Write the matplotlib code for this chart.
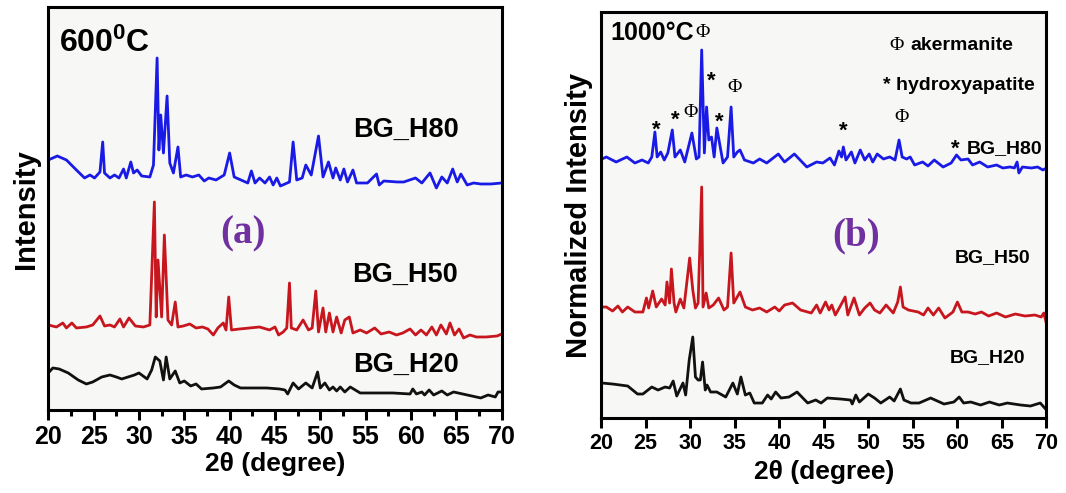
import matplotlib
matplotlib.use("Agg")
import matplotlib.pyplot as plt
from matplotlib.ticker import MultipleLocator

plt.rcParams['font.family'] = ['Liberation Sans', 'DejaVu Sans']
plt.rcParams['mathtext.fontset'] = 'custom'
plt.rcParams['mathtext.rm'] = 'Liberation Sans'
plt.rcParams['mathtext.bf'] = 'Liberation Sans:bold'

# ---------------- Panel (a): 600 C (two-theta, intensity a.u.) ----------------
a_h80_x = [20.0, 21.0, 22.0, 23.1, 24.0, 24.6, 25.1, 25.7, 26.0, 26.2, 26.8, 27.3, 27.8, 28.3, 28.6,
           29.1, 29.4, 29.8, 30.3, 31.2, 31.6, 32.0, 32.2, 32.4, 32.7, 33.1, 33.4, 33.8, 34.3, 34.6,
           35.2, 35.9, 36.6, 37.2, 37.7, 38.5, 39.4, 40.0, 40.5, 41.5, 42.0, 42.4, 42.8, 43.3, 43.9,
           44.4, 44.8, 45.2, 45.6, 46.1, 46.6, 47.0, 47.4, 48.0, 48.4, 49.0, 49.8, 50.3, 50.9, 51.4,
           51.7, 52.2, 52.6, 53.0, 53.6, 54.0, 54.5, 55.2, 56.2, 56.5, 57.0, 58.5, 59.2, 60.5, 61.2,
           62.1, 62.8, 63.4, 64.0, 64.6, 65.1, 65.5, 66.2, 66.9, 67.7, 68.8, 70.0]
a_h80_y = [250, 254, 250, 240, 232, 235, 232, 238, 268, 237, 232, 235, 232, 241, 232,
           248, 237, 240, 234, 233, 245, 352, 260, 295, 257, 314, 247, 237, 263, 233,
           235, 233, 235, 229, 232, 230, 235, 257, 233, 229, 227, 239, 227, 232, 227,
           233, 225, 232, 224, 226, 228, 268, 230, 232, 245, 235, 274, 233, 248, 232,
           242, 230, 241, 228, 240, 227, 227, 227, 236, 225, 229, 228, 228, 232, 227,
           237, 222, 233, 227, 241, 228, 236, 225, 227, 226, 226, 227]

a_h50_x = [20.0, 20.9, 21.6, 22.0, 22.6, 23.1, 24.2, 24.9, 25.7, 26.2, 26.8, 27.3, 27.9, 28.3, 28.9,
           29.6, 30.5, 31.2, 31.7, 31.9, 32.1, 32.5, 32.8, 33.2, 33.6, 34.0, 34.3, 34.9, 35.6, 36.3,
           37.0, 37.6, 38.2, 38.7, 39.3, 39.6, 39.9, 40.2, 41.1, 42.2, 43.3, 44.4, 45.0, 45.4, 45.9,
           46.3, 46.6, 46.8, 47.4, 48.1, 48.7, 49.1, 49.5, 49.8, 50.3, 50.6, 51.0, 51.4, 51.8, 52.3,
           52.7, 53.2, 53.6, 54.4, 55.1, 56.0, 56.7, 57.6, 58.4, 59.1, 59.9, 60.5, 61.1, 61.7, 62.3,
           62.8, 63.3, 63.9, 64.3, 64.8, 65.3, 65.8, 66.5, 67.2, 68.3, 69.5, 70.0]
a_h50_y = [85, 83, 87, 82, 87, 82, 83, 85, 94, 84, 85, 83, 91, 83, 92,
           84, 83, 85, 208, 93, 150, 93, 175, 90, 85, 108, 83, 84, 86, 82,
           83, 81, 75, 82, 87, 80, 113, 80, 81, 82, 83, 80, 83, 75, 78,
           82, 127, 82, 80, 90, 80, 82, 119, 78, 102, 78, 97, 78, 93, 77,
           90, 93, 77, 80, 77, 82, 76, 78, 75, 77, 81, 75, 80, 75, 83,
           75, 85, 76, 87, 75, 81, 72, 75, 73, 73, 74, 76]

a_h20_x = [20.0, 20.5, 21.2, 22.2, 23.3, 24.2, 24.9, 25.9, 26.8, 27.5, 28.1, 28.8, 29.5, 30.0, 30.9,
           31.4, 31.8, 32.3, 32.7, 33.0, 33.4, 34.0, 34.5, 35.0, 35.7, 36.3, 36.9, 38.2, 39.0, 39.9,
           40.5, 41.2, 42.8, 44.1, 45.5, 46.1, 46.4, 47.0, 47.6, 48.4, 49.1, 49.7, 50.0, 50.5, 51.0,
           51.4, 51.8, 52.2, 52.7, 53.3, 54.4, 55.5, 58.0, 59.9, 60.2, 60.6, 61.2, 61.5, 62.0, 62.5,
           63.4, 64.0, 64.7, 66.2, 67.7, 68.5, 69.3, 69.6, 70.0]
a_h20_y = [37, 42, 41, 37, 30, 26, 28, 33, 35, 33, 31, 33, 35, 37, 31,
           40, 53, 49, 30, 53, 31, 39, 27, 29, 24, 26, 21, 22, 23, 29,
           25, 22, 22, 22, 21, 20, 16, 27, 21, 27, 22, 38, 22, 27, 20,
           23, 19, 23, 18, 23, 17, 17, 17, 16, 21, 16, 18, 15, 20, 15,
           19, 15, 18, 15, 12, 15, 13, 18, 18]

# ---------------- Panel (b): 1000 C ----------------
b_h80_x = [20.1, 20.6, 21.7, 22.9, 23.8, 24.6, 25.3, 25.7, 26.05, 26.3, 26.7, 27.1, 27.5, 28.0, 28.3,
           28.9, 29.4, 30.2, 30.7, 31.0, 31.3, 31.6, 31.85, 32.1, 32.4, 32.7, 33.0, 33.3, 33.7, 34.2,
           34.6, 34.9, 35.3, 35.6, 36.1, 37.1, 37.8, 38.6, 39.9, 40.6, 41.7, 43.1, 44.2, 44.9, 45.7,
           46.2, 46.7, 47.0, 47.2, 47.5, 48.1, 48.5, 49.1, 49.6, 50.1, 50.5, 51.0, 51.7, 52.4, 53.0,
           53.45, 53.8, 54.3, 54.7, 55.2, 56.1, 56.7, 57.4, 58.4, 59.3, 59.9, 60.4, 61.2, 61.7, 62.5,
           63.4, 64.4, 65.1, 65.9, 66.4, 66.7, 66.9, 67.3, 68.3, 69.0, 69.6, 70.0]
b_h80_y = [259, 261, 256, 261, 255, 258, 255, 261, 286, 261, 266, 258, 265, 288, 261,
           268, 256, 285, 259, 261, 368, 265, 311, 278, 281, 261, 290, 275, 255, 261,
           311, 261, 266, 268, 258, 255, 259, 255, 264, 256, 264, 251, 256, 255, 260,
           253, 267, 261, 271, 258, 266, 255, 268, 258, 264, 256, 264, 259, 261, 258,
           278, 261, 259, 261, 253, 256, 252, 258, 251, 255, 263, 258, 259, 253, 256,
           251, 253, 250, 251, 250, 256, 245, 251, 250, 251, 248, 250]

b_h50_x = [20.0, 20.1, 20.6, 21.3, 21.9, 22.4, 23.0, 23.8, 24.7, 25.1, 25.35, 25.8, 26.2, 26.8, 27.2,
           27.4, 27.7, 27.9, 28.2, 28.4, 28.9, 29.3, 29.95, 30.3, 30.6, 30.9, 31.3, 31.45, 31.8, 32.1,
           32.6, 33.2, 33.8, 34.2, 34.6, 34.9, 35.6, 36.2, 37.0, 37.8, 38.6, 39.5, 40.0, 40.6, 41.5,
           42.4, 43.6, 44.2, 44.6, 45.2, 45.6, 45.9, 46.3, 46.8, 47.4, 47.7, 48.4, 49.0, 49.6, 50.2,
           50.7, 51.3, 52.0, 52.8, 53.3, 53.6, 53.9, 54.5, 55.6, 56.2, 56.7, 57.3, 57.9, 58.6, 59.5,
           60.0, 60.5, 61.2, 62.0, 62.7, 63.5, 64.4, 65.4, 66.5, 67.6, 68.7, 69.4, 69.7, 70.0]
b_h50_y = [116, 111, 111, 107, 112, 106, 111, 106, 106, 120, 110, 127, 111, 119, 113,
           136, 115, 149, 115, 106, 119, 110, 160, 128, 110, 115, 231, 111, 125, 110,
           113, 120, 108, 111, 165, 115, 126, 111, 108, 110, 106, 111, 107, 113, 115,
           108, 105, 113, 105, 116, 108, 113, 103, 111, 121, 103, 120, 103, 110, 115,
           108, 105, 113, 105, 116, 131, 111, 108, 106, 103, 110, 103, 110, 100, 106,
           116, 106, 106, 104, 106, 102, 105, 101, 104, 102, 103, 101, 105, 94]

b_h20_x = [20.1, 21.3, 23.0, 24.1, 24.7, 25.7, 26.4, 27.2, 27.7, 28.1, 28.5, 29.2, 29.5, 29.9, 30.3,
           30.6, 30.9, 31.15, 31.4, 31.7, 31.9, 32.3, 33.0, 34.0, 34.8, 35.3, 35.7, 36.2, 36.7, 37.2,
           38.1, 38.7, 39.1, 39.6, 40.2, 41.1, 42.0, 43.2, 44.1, 44.7, 45.4, 46.9, 48.0, 48.2, 48.6,
           49.0, 50.0, 50.7, 51.4, 52.4, 52.9, 53.6, 54.0, 54.8, 55.7, 57.0, 58.5, 59.6, 60.2, 60.7,
           61.5, 62.6, 63.6, 64.7, 65.6, 67.1, 68.2, 69.3, 70.0]
b_h20_y = [35, 34, 32, 24, 24, 31, 28, 31, 30, 37, 22, 35, 23, 58, 81,
           41, 38, 38, 56, 28, 33, 26, 26, 21, 35, 24, 41, 23, 25, 15,
           15, 23, 19, 26, 20, 21, 26, 15, 18, 15, 20, 19, 18, 14, 23,
           16, 24, 20, 15, 21, 17, 29, 18, 15, 15, 20, 14, 16, 21, 15,
           16, 13, 16, 13, 15, 13, 12, 15, 8]

# peak markers (panel b): two-theta, height, symbol
mark_x = [26.2, 28.3, 30.0, 31.4, 32.4, 33.3, 35.0, 47.2, 53.7, 59.8]
mark_y = [292, 302, 305, 385, 341, 300, 330, 291, 300, 273]
mark_s = ['*', '*', 'Φ', 'Φ', '*', '*', 'Φ', '*', 'Φ', '*']

xticks = [20, 25, 30, 35, 40, 45, 50, 55, 60, 65, 70]

BLUE = '#1a1ae6'
RED = '#c8161e'
BLACK = '#111111'
PURPLE = '#7030a0'
FACE = '#f7f7f5'

fig = plt.figure(figsize=(10.66, 4.93), dpi=100)
fig.patch.set_facecolor('white')

axA = fig.add_axes([0.0453, 0.1684, 0.4253, 0.8164])
axB = fig.add_axes([0.5638, 0.1521, 0.4179, 0.8236])

for ax in (axA, axB):
    ax.set_facecolor(FACE)
    ax.set_xlim(20, 70)
    ax.set_yticks([])
    ax.set_xticks(xticks)
    for sp in ax.spines.values():
        sp.set_linewidth(2.2)
        sp.set_color('black')

axA.set_ylim(0, 402.5)
axB.set_ylim(0, 406)

lw = 2.0
kw = dict(lw=lw, solid_joinstyle='round', solid_capstyle='round')
axA.plot(a_h80_x, a_h80_y, color=BLUE, **kw)
axA.plot(a_h50_x, a_h50_y, color=RED, **kw)
axA.plot(a_h20_x, a_h20_y, color=BLACK, **kw)
axB.plot(b_h80_x, b_h80_y, color=BLUE, **kw)
axB.plot(b_h50_x, b_h50_y, color=RED, **kw)
axB.plot(b_h20_x, b_h20_y, color=BLACK, **kw)

# ticks
axA.xaxis.set_minor_locator(MultipleLocator(2.5))
axA.tick_params(axis='x', which='major', direction='out', length=7, width=2.2,
                labelsize=18, pad=4)
axA.tick_params(axis='x', which='minor', direction='out', length=4, width=2.2)
axB.tick_params(axis='x', which='major', direction='out', length=7, width=2.2,
                labelsize=15.5, pad=4)
for lab in axA.get_xticklabels() + axB.get_xticklabels():
    lab.set_fontweight('bold')

axA.set_xlabel('2θ (degree)', fontsize=19, fontweight='bold', labelpad=2)
axB.set_xlabel('2θ (degree)', fontsize=19, fontweight='bold', labelpad=4)
axA.set_ylabel('Intensity', fontsize=21, fontweight='bold', labelpad=6)
axB.set_ylabel('Normalized Intensity', fontsize=21, fontweight='bold', labelpad=6)

# panel (a) texts
axA.text(21.2, 358, r'$\mathbf{600^{0}C}$', fontsize=23, ha='left', va='baseline')
axA.text(53.6, 273, 'BG_H80', fontsize=19.5, fontweight='bold', ha='left', va='baseline')
axA.text(53.5, 128, 'BG_H50', fontsize=19.5, fontweight='bold', ha='left', va='baseline')
axA.text(53.6, 38, 'BG_H20', fontsize=19.5, fontweight='bold', ha='left', va='baseline')
axA.text(41.45, 176, '(a)', fontsize=28, fontweight='bold', color=PURPLE,
         family=['Liberation Serif', 'DejaVu Serif'], ha='center', va='center')

# panel (b) texts
axB.text(21.0, 378, '1000°C', fontsize=18, fontweight='bold', ha='left', va='baseline')
axB.text(61.0, 265, 'BG_H80', fontsize=14, fontweight='bold', ha='left', va='baseline')
axB.text(59.7, 156, 'BG_H50', fontsize=14, fontweight='bold', ha='left', va='baseline')
axB.text(59.1, 56, 'BG_H20', fontsize=14, fontweight='bold', ha='left', va='baseline')
axB.text(48.6, 182, '(b)', fontsize=28, fontweight='bold', color=PURPLE,
         family=['Liberation Serif', 'DejaVu Serif'], ha='center', va='center')
axB.text(52.4, 368, 'Φ', fontsize=14, family=['Liberation Serif', 'DejaVu Serif'],
         ha='left', va='baseline')
axB.text(54.7, 368, 'akermanite', fontsize=14, fontweight='bold', ha='left', va='baseline')
axB.text(51.6, 328, '* hydroxyapatite', fontsize=14, fontweight='bold', ha='left', va='baseline')

for mx, my, ms in zip(mark_x, mark_y, mark_s):
    if ms == 'Φ':
        axB.text(mx, my, ms, fontsize=14, family=['Liberation Serif', 'DejaVu Serif'],
                 ha='center', va='center')
    else:
        axB.text(mx, my - 4, ms, fontsize=16, fontweight='bold', ha='center', va='center')

fig.savefig('out.png', dpi=100, facecolor='white')
